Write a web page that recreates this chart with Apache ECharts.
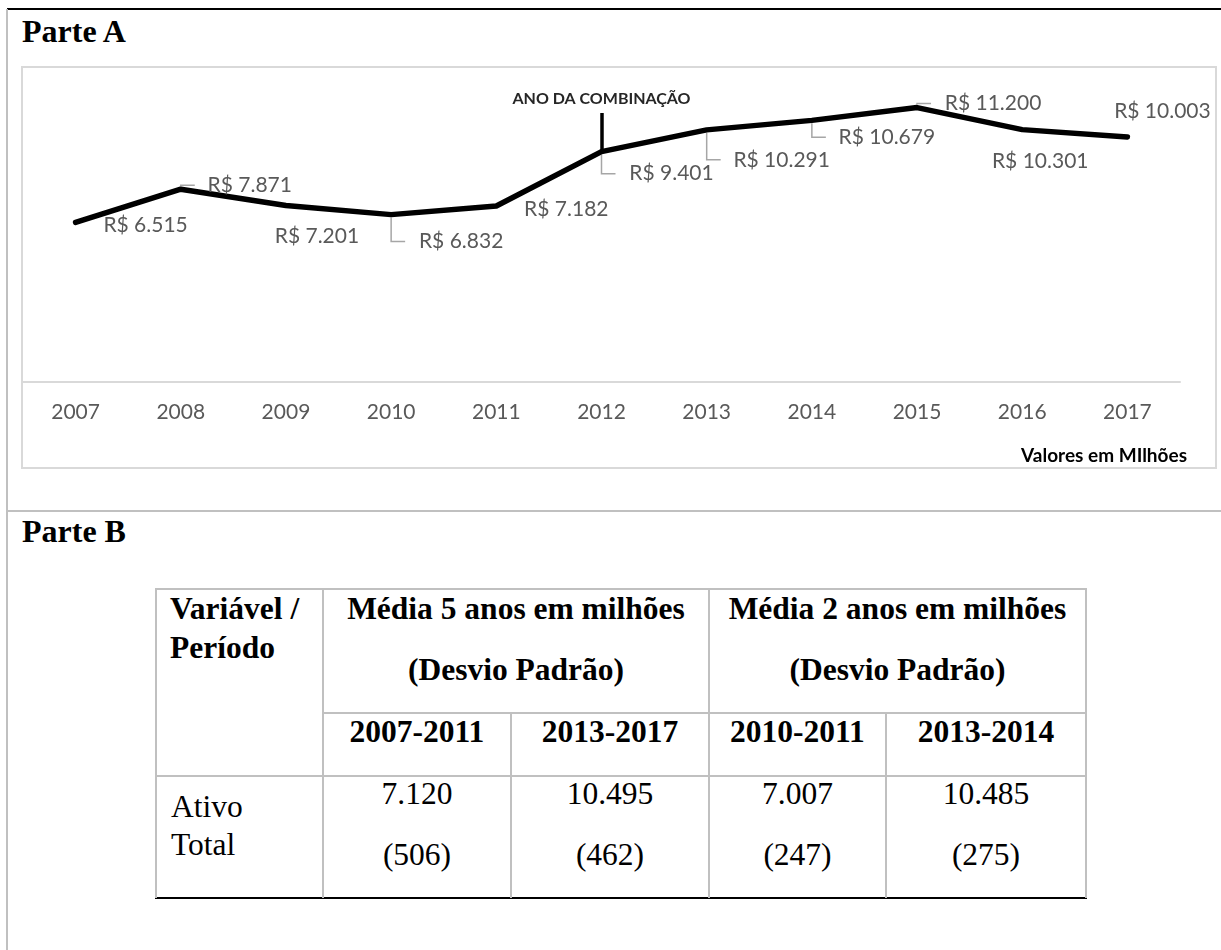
<!DOCTYPE html>
<html lang="pt-BR">
<head>
<meta charset="utf-8">
<title>Ativo Total — Parte A e Parte B</title>
<script src="https://cdn.jsdelivr.net/npm/echarts@6/dist/echarts.min.js"></script>
<style>
  html, body { margin: 0; padding: 0; background: #fff; }
  #page { position: relative; width: 1221px; height: 950px; overflow: hidden; background: #fff; }
  .rule { position: absolute; }
  .txt {
    position: absolute; white-space: nowrap; color: #000;
    font-family: "Liberation Serif", "Times New Roman", serif;
    font-size: 31.5px; line-height: 31.5px;
  }
  .bold { font-weight: bold; }
  .center { text-align: center; }
  .heading { font-size: 32px; line-height: 32px; font-weight: bold; }
  #chart { position: absolute; left: 21px; top: 66px; width: 1196px; height: 403px; }
  #chartFrame {
    position: absolute; left: 21px; top: 66px; width: 1196px; height: 403px;
    box-sizing: border-box; border: 2px solid #d9d9d9; pointer-events: none;
  }
</style>
</head>
<body>
<div id="page">
  <div id="chart"></div>
  <div id="chartFrame"></div>
</div>
<script>
// ---- Parte A: total assets per year (R$ millions) ----
const years = ['2007', '2008', '2009', '2010', '2011', '2012', '2013', '2014', '2015', '2016', '2017'];
const totalAssets = [6515, 7871, 7201, 6832, 7182, 9401, 10291, 10679, 11200, 10301, 10003];
const combinationYear = '2012';
const combinationLabel = 'ANO DA COMBINAÇÃO';
const unitNote = 'Valores em MIlhões';

// ---- Parte B: summary table ----
const tableCorner = ['Variável /', 'Período'];
const tableGroups = ['Média 5 anos em milhões', 'Média 2 anos em milhões'];
const tableGroupSub = '(Desvio Padrão)';
const tablePeriods = ['2007-2011', '2013-2017', '2010-2011', '2013-2014'];
const tableRowName = ['Ativo', 'Total'];
const tableMeans = ['7.120', '10.495', '7.007', '10.485'];
const tableStdDevs = ['(506)', '(462)', '(247)', '(275)'];

// ---- layout of the data labels (offset of label centre from its point, px) ----
const labelOffsets = [[70, 3], [69, -4], [31, 31], [70, 27], [70, 3], [70, 22],
                      [75, 30], [75, 17], [76, -4], [18, 32], [35, -26]];
const hasLeader = [false, true, false, true, false, true, true, true, true, false, false];
const leaderReach = 14;
const markerTop = 10980;   // top of the combination-year marker, in axis units

function brl(n) {
  const s = String(Math.round(n));
  return s.replace(/\B(?=(\d{3})+(?!\d))/g, '.');
}

// ---------- page frame, headings and table ----------
const page = document.getElementById('page');
function rule(l, t, w, h, c) {
  const d = document.createElement('div');
  d.className = 'rule';
  Object.assign(d.style, { left: l + 'px', top: t + 'px', width: w + 'px', height: h + 'px', background: c });
  page.appendChild(d);
}
// baseline of the serif text sits 26.4px below the top of its 31.5px line box
function text(str, baseline, opts) {
  const d = document.createElement('div');
  d.className = 'txt' + (opts.bold ? ' bold' : '') + (opts.cls ? ' ' + opts.cls : '');
  d.textContent = str;
  const off = opts.off || 26.4;
  d.style.top = (baseline - off) + 'px';
  if (opts.width !== undefined) {
    d.classList.add('center');
    d.style.left = opts.left + 'px';
    d.style.width = opts.width + 'px';
  } else {
    d.style.left = opts.left + 'px';
  }
  page.appendChild(d);
}

rule(7, 8, 1214, 2, '#000');          // top rule
rule(6, 9, 2, 941, '#c0c0c0');        // left page edge
rule(7, 510, 1214, 2, '#c0c0c0');     // separator between parts

text('Parte A', 42, { left: 22, cls: 'heading', off: 26.8 });
text('Parte B', 542, { left: 22, cls: 'heading', off: 26.8 });

// table grid
const colX = [155, 322, 510, 708, 885, 1085];
const rowY = [588, 712, 775, 898];
const grid = '#c0c0c0';
rule(colX[0], rowY[0], colX[5] - colX[0] + 2, 2, grid);              // top
rule(colX[1], rowY[1], colX[5] - colX[1] + 2, 2, grid);              // under group headers
rule(colX[0], rowY[2], colX[5] - colX[0] + 2, 2, grid);              // under period headers
rule(colX[0], rowY[3] - 1, colX[5] - colX[0] + 2, 2, '#000');        // bottom
[0, 1, 3, 5].forEach(i => rule(colX[i], rowY[0], 2, rowY[3] - rowY[0], grid));
[2, 4].forEach(i => rule(colX[i], rowY[1], 2, rowY[3] - rowY[1], grid));

text(tableCorner[0], 619, { left: 170, bold: true });
text(tableCorner[1], 658, { left: 170, bold: true });
tableGroups.forEach((g, k) => {
  const l = colX[1 + 2 * k], r = colX[3 + 2 * k];
  text(g, 619, { left: l, width: r - l + 2, bold: true });
  text(tableGroupSub, 680, { left: l, width: r - l + 2, bold: true });
});
tablePeriods.forEach((p, k) => {
  const l = colX[1 + k], r = colX[2 + k];
  text(p, 742, { left: l, width: r - l + 2, bold: true });
  text(tableMeans[k], 804, { left: l, width: r - l + 2 });
  text(tableStdDevs[k], 865, { left: l, width: r - l + 2 });
});
text(tableRowName[0], 817, { left: 171 });
text(tableRowName[1], 855, { left: 171 });

// ---------- Parte A chart ----------
const chart = echarts.init(document.getElementById('chart'), null, { renderer: 'canvas' });
const combIdx = years.indexOf(combinationYear);

const leaderData = [];
totalAssets.forEach((v, i) => { if (hasLeader[i]) leaderData.push([i, v]); });

chart.setOption({
  animation: false,
  backgroundColor: '#fff',
  grid: { left: 2, right: 37, top: 22, bottom: 87, containLabel: false },
  xAxis: {
    type: 'category',
    data: years,
    boundaryGap: true,
    axisLine: { show: true, lineStyle: { color: '#d9d9d9', width: 2 } },
    axisTick: { show: false },
    axisLabel: { color: '#595959', fontFamily: 'Lato', fontSize: 21, lineHeight: 21, margin: 20, interval: 0 },
    splitLine: { show: false }
  },
  yAxis: {
    type: 'value', min: 0, max: 12000, interval: 2000,
    show: false, splitLine: { show: false }
  },
  graphic: [{
    type: 'text', x: 1166, y: 390, silent: true,
    style: {
      text: unitNote, font: 'bold 19px Lato', fill: '#000',
      align: 'right', verticalAlign: 'middle', textAlign: 'right', textVerticalAlign: 'middle'
    }
  }],
  series: [
    {
      type: 'custom',
      silent: true,
      z: 1,
      data: leaderData,
      renderItem: function (params, api) {
        const i = api.value(0);
        const p = api.coord([i, api.value(1)]);
        const dy = labelOffsets[i][1];
        const s = dy < 0 ? -3 : 3;
        return {
          type: 'polyline',
          shape: { points: [[p[0], p[1] + s], [p[0], p[1] + dy], [p[0] + leaderReach, p[1] + dy]] },
          style: { stroke: '#a6a6a6', lineWidth: 1.5, fill: null }
        };
      }
    },
    {
      type: 'line',
      z: 3,
      data: totalAssets.map((v, i) => ({ value: v, label: { offset: labelOffsets[i] } })),
      symbol: 'circle',
      symbolSize: 1,
      itemStyle: { color: 'rgba(0,0,0,0)', borderWidth: 0 },
      lineStyle: { color: '#000', width: 5.5, cap: 'round', join: 'round' },
      label: {
        show: true, position: 'inside', color: '#595959',
        fontFamily: 'Lato', fontSize: 21, align: 'center', verticalAlign: 'middle',
        formatter: p => 'R$ ' + brl(p.value)
      },
      emphasis: { disabled: true },
      markLine: {
        silent: true,
        symbol: 'none',
        animation: false,
        lineStyle: { color: '#000', width: 3.5, type: 'solid' },
        label: {
          show: true, position: 'end', distance: 6,
          formatter: combinationLabel,
          color: '#262626', fontFamily: 'Lato', fontWeight: 'bold', fontSize: 16
        },
        data: [[{ coord: [combinationYear, totalAssets[combIdx]] }, { coord: [combinationYear, markerTop] }]]
      }
    }
  ]
});
</script>
</body>
</html>
